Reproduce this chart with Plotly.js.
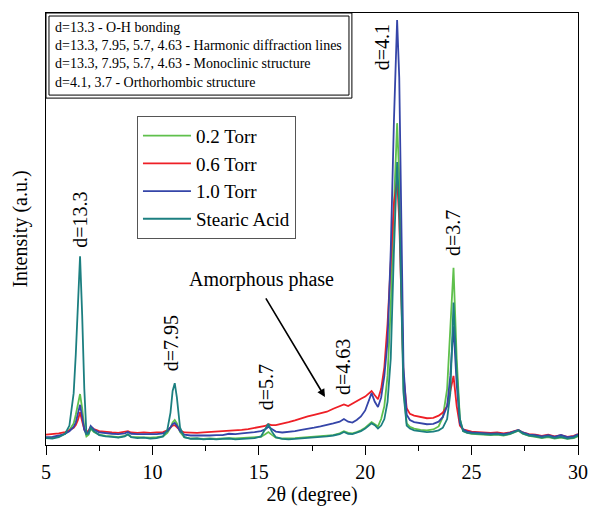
<!DOCTYPE html>
<html>
<head>
<meta charset="utf-8">
<script src="https://cdn.plot.ly/plotly-3.0.1.min.js"></script>
<style>html,body{margin:0;padding:0;background:#fff}#chart{width:591px;height:506px}</style>
</head>
<body>
<div id="chart"></div>
<script>
// 2θ (degree)
const twoTheta = [
  5.0, 5.3, 5.6, 5.9, 6.1, 6.3, 6.4, 6.5, 6.6, 6.7,
  6.8, 6.9, 7.0, 7.1, 7.25, 7.5, 7.8, 8.1, 8.4, 8.7,
  8.85, 9.0, 9.3, 9.6, 9.9, 10.2, 10.5, 10.7, 10.85, 10.95,
  11.05, 11.15, 11.3, 11.5, 11.8, 12.1, 12.4, 12.7, 13.0, 13.3,
  13.6, 13.9, 14.2, 14.5, 14.8, 15.1, 15.3, 15.45, 15.6, 15.8,
  16.1, 16.4, 16.7, 17.0, 17.3, 17.6, 17.9, 18.2, 18.5, 18.8,
  19.0, 19.2, 19.4, 19.6, 19.8, 20.0, 20.15, 20.3, 20.45, 20.6,
  20.75, 20.9, 21.05, 21.2, 21.35, 21.5, 21.6, 21.7, 21.8, 21.95,
  22.1, 22.3, 22.6, 22.9, 23.2, 23.45, 23.65, 23.85, 24.0, 24.15,
  24.3, 24.45, 24.6, 24.8, 25.0, 25.3, 25.6, 25.9, 26.2, 26.5,
  26.8, 27.05, 27.2, 27.4, 27.7, 28.0, 28.3, 28.6, 28.9, 29.2,
  29.5, 29.8, 30.0
];
const torr02 = [
  1.7, 1.7, 2.0, 2.6, 3.5, 5, 7, 9.5, 11.8, 8.5,
  4, 2.0, 2.4, 3.8, 3.0, 2.4, 2.1, 2.0, 1.8, 2.1,
  2.4, 1.9, 1.8, 1.8, 1.7, 1.8, 2.0, 2.8, 4.0, 5.2,
  5.8, 5.0, 3.0, 1.8, 1.5, 1.5, 1.4, 1.5, 1.4, 1.5,
  1.6, 1.5, 1.6, 1.6, 1.7, 1.9, 2.5, 3.0, 2.4, 1.7,
  1.5, 1.5, 1.6, 1.7, 1.8, 1.9, 2.0, 2.1, 2.3, 2.7,
  3.2, 2.8, 2.7, 3.0, 3.4, 4.0, 4.6, 5.3, 4.8, 4.3,
  6, 9, 16, 32, 55, 74.5, 62, 36, 13, 5,
  4.2, 3.8, 3.5, 3.4, 3.6, 4.3, 6.5, 13, 28, 41,
  20, 6, 3.2, 2.8, 2.6, 2.5, 2.4, 2.3, 2.4, 2.2,
  2.5, 3.0, 3.3, 2.6, 2.1, 1.9, 1.6, 1.8, 1.5, 1.7,
  1.4, 1.6, 2.0
];
const torr06 = [
  2.4, 2.5, 2.7, 3.0, 3.4, 4.0, 4.6, 5.8, 7.6, 5.5,
  3.6, 3.1, 3.3, 4.2, 3.7, 3.2, 3.0, 2.9, 2.8, 3.0,
  3.2, 2.9, 2.8, 2.9, 2.8, 2.9, 3.0, 3.4, 4.0, 4.5,
  4.6, 4.2, 3.4, 2.9, 2.8, 2.8, 2.9, 3.0, 3.0, 3.1,
  3.2, 3.4, 3.5, 3.7, 3.9, 4.1, 4.4, 4.8, 4.6, 4.6,
  4.9, 5.3, 5.7, 6.2, 6.6, 7.0, 7.3, 7.7, 8.4, 8.9,
  9.4, 9.0, 9.6, 10.3, 10.7, 11.2, 11.8, 12.5, 11.5, 10.6,
  13, 18, 28, 42, 56, 61.5, 52, 34, 16, 8.5,
  7.2, 6.8, 6.5, 6.2, 6.3, 6.8, 7.5, 9, 12.5, 16,
  9, 4.5, 3.6, 3.3, 3.1, 3.0, 2.9, 2.8, 2.9, 2.7,
  2.9, 3.2, 3.5, 2.9, 2.5, 2.4, 2.1, 2.4, 2.0, 2.3,
  1.9, 2.1, 2.5
];
const torr10 = [
  1.8, 1.9, 2.2, 2.6, 3.2, 4.2, 5.2, 7, 9.3, 6.5,
  3.5, 2.6, 3.0, 4.4, 3.6, 2.9, 2.7, 2.6, 2.5, 2.7,
  3.0, 2.6, 2.5, 2.5, 2.4, 2.5, 2.7, 3.2, 4.1, 4.8,
  5.1, 4.5, 3.2, 2.4, 2.2, 2.2, 2.1, 2.2, 2.3, 2.3,
  2.6, 2.5, 2.7, 2.8, 3.0, 3.2, 3.6, 4.2, 3.7, 3.1,
  2.9, 3.0, 3.2, 3.5, 3.7, 4.0, 4.3, 4.6, 5.0, 5.4,
  6.0, 5.4, 5.2, 5.8, 6.6, 8.0, 10, 12, 10, 8.8,
  11, 16, 24, 45, 75, 98.4, 85, 50, 18, 7,
  5.8, 5.3, 5.0, 4.8, 4.9, 5.4, 6.5, 9, 16, 27.5,
  14, 5, 3.6, 3.1, 2.9, 2.8, 2.7, 2.6, 2.7, 2.5,
  2.8, 3.2, 3.5, 2.9, 2.4, 2.3, 2.0, 2.3, 1.9, 2.3,
  1.8, 2.0, 2.5
];
const stearic = [
  1.6, 1.5, 1.8, 2.6, 4.5, 12, 21, 33, 43.7, 30,
  13, 2.5, 2.6, 4.0, 3.2, 2.3, 2.0, 1.9, 1.7, 2.0,
  2.5, 1.8, 1.6, 1.7, 1.5, 1.6, 2.0, 3.5, 7.5, 12.5,
  14.3, 11, 4, 1.8, 1.4, 1.5, 1.3, 1.4, 1.3, 1.4,
  1.5, 1.3, 1.4, 1.5, 1.6, 2.0, 3.5, 4.9, 3.2, 1.8,
  1.4, 1.3, 1.4, 1.5, 1.6, 1.7, 1.9, 2.0, 2.2, 2.5,
  3.0, 2.6, 2.5, 2.8, 3.2, 3.8, 4.4, 5.0, 4.6, 3.8,
  4.5, 6, 10, 20, 45, 65.5, 55, 32, 12, 4.5,
  3.8, 3.4, 3.2, 3.0, 3.1, 3.4, 4.0, 6, 12, 33,
  17, 6, 3.2, 2.8, 2.7, 2.6, 2.5, 2.4, 2.5, 2.3,
  2.6, 3.1, 3.4, 2.7, 2.2, 2.0, 1.7, 2.0, 1.6, 1.9,
  1.5, 1.7, 2.2
];
const seriesNames = ["0.2 Torr", "0.6 Torr", "1.0 Torr", "Stearic Acid"];
const seriesColors = ["#5fc04c", "#ee1f26", "#3545a8", "#1c7f80"];
const seriesValues = [torr02, torr06, torr10, stearic];

const peakLabels = ["d=13.3", "d=7.95", "d=5.7", "d=4.63", "d=4.1", "d=3.7"];
const peakLabelX = [6.6, 10.85, 15.34, 18.96, 20.79, 24.13];
const peakLabelY = [45.2, 16.7, 7.6, 11.1, 86.3, 43.3];

const noteLines = [
  "d=13.3 - O-H bonding",
  "d=13.3, 7.95, 5.7, 4.63 - Harmonic diffraction lines",
  "d=13.3, 7.95, 5.7, 4.63 - Monoclinic structure",
  "d=4.1, 3.7 - Orthorhombic structure"
];

const serif = "Liberation Serif, Times New Roman, serif";

const traces = seriesNames.map((n, i) => ({
  x: twoTheta, y: seriesValues[i], name: n, type: "scatter", mode: "lines",
  line: {color: seriesColors[i], width: 1.8}
}));

const annotations = peakLabels.map((t, i) => ({
  x: peakLabelX[i], y: peakLabelY[i], xref: "x", yref: "y", text: t,
  showarrow: false, textangle: -90, xanchor: "center", yanchor: "bottom",
  font: {family: serif, size: 20, color: "#000"}
}));
annotations.push({
  x: 15.13, y: 38.4, xref: "x", yref: "y", text: "Amorphous phase", showarrow: false,
  font: {family: serif, size: 20, color: "#000"}
});
annotations.push({
  x: 18.11, y: 11.1, ax: 15.29, ay: 34.3, xref: "x", yref: "y", axref: "x", ayref: "y",
  text: "", showarrow: true, arrowhead: 2, arrowsize: 1, arrowwidth: 1.6, arrowcolor: "#000"
});
annotations.push({
  x: 0.015, y: 0.987, xref: "paper", yref: "paper", xanchor: "left", yanchor: "top",
  align: "left", showarrow: false, text: noteLines.join("<br>"), borderpad: 0,
  font: {family: serif, size: 14, color: "#000"}
});

const layout = {
  width: 591, height: 506,
  margin: {l: 46, r: 13, t: 13, b: 61},
  paper_bgcolor: "#fff", plot_bgcolor: "#fff",
  font: {family: serif, color: "#000"},
  showlegend: true,
  legend: {
    x: 0.171, y: 0.762, xanchor: "left", yanchor: "top",
    bordercolor: "#555", borderwidth: 1, bgcolor: "#fff",
    font: {family: serif, size: 19, color: "#000"},
    itemwidth: 48, tracegroupgap: 0
  },
  xaxis: {
    range: [5, 30], dtick: 5, tick0: 5, ticks: "outside", ticklen: 9, tickwidth: 1, tickcolor: "#000",
    minor: {dtick: 2.5, ticks: "outside", ticklen: 5, tickwidth: 1, tickcolor: "#000"},
    showline: true, linecolor: "#000", linewidth: 1, mirror: true, showgrid: false, zeroline: false,
    tickfont: {family: serif, size: 20, color: "#000"},
    title: {text: "2θ (degree)", font: {family: serif, size: 20, color: "#000"}, standoff: 5}
  },
  yaxis: {
    range: [0, 100], showticklabels: false, ticks: "", showgrid: false, zeroline: false,
    showline: true, linecolor: "#000", linewidth: 1, mirror: true,
    title: {text: "Intensity (a.u.)", font: {family: serif, size: 20, color: "#000"}, standoff: 12}
  },
  shapes: [
    {type: "rect", xref: "paper", yref: "paper", x0: 0, x1: 0.575, y0: 0.803, y1: 1,
     line: {color: "#000", width: 1}, fillcolor: "rgba(0,0,0,0)"},
    {type: "rect", xref: "paper", yref: "paper", x0: 0.0056, x1: 0.5695, y0: 0.810, y1: 0.993,
     line: {color: "#000", width: 1}, fillcolor: "rgba(0,0,0,0)"}
  ],
  annotations: annotations
};

Plotly.newPlot("chart", traces, layout, {displayModeBar: false, staticPlot: true});
</script>
</body>
</html>
